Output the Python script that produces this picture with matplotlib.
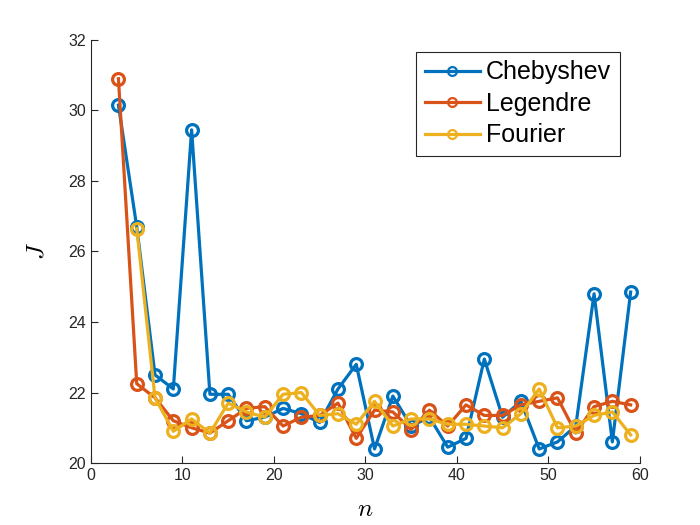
import numpy as np
import matplotlib
matplotlib.use("Agg")
import matplotlib.pyplot as plt

# data
n_cheb = np.arange(3, 60, 2)
J_cheb = [30.15, 26.7, 22.5, 22.1, 29.45, 21.95, 21.95, 21.2, 21.3, 21.55,
          21.4, 21.15, 22.1, 22.8, 20.4, 21.9, 21.05, 21.3, 20.45, 20.7,
          22.95, 21.3, 21.75, 20.4, 20.6, 21.05, 24.8, 20.6, 24.85]

n_leg = np.arange(3, 60, 2)
J_leg = [30.9, 22.25, 21.85, 21.2, 21.0, 20.85, 21.2, 21.55, 21.6, 21.05,
         21.3, 21.35, 21.7, 20.7, 21.5, 21.45, 20.95, 21.5, 21.05, 21.65,
         21.35, 21.35, 21.65, 21.75, 21.85, 20.85, 21.6, 21.75, 21.65]

n_four = np.arange(5, 60, 2)
J_four = [26.65, 21.85, 20.9, 21.25, 20.85, 21.7, 21.45, 21.3, 21.95, 22.0,
          21.35, 21.4, 21.1, 21.75, 21.05, 21.25, 21.25, 21.1, 21.1, 21.05,
          21.0, 21.4, 22.1, 21.0, 21.05, 21.35, 21.45, 20.8]

plt.rcParams['font.family'] = ['Liberation Sans', 'DejaVu Sans']
plt.rcParams['mathtext.fontset'] = 'cm'

fig = plt.figure(figsize=(7, 5.25), dpi=100)
ax = fig.add_axes([0.13, 0.118, 0.784, 0.806])

style = dict(marker='o', markersize=8.5, markerfacecolor='none',
             markeredgewidth=2.3, linewidth=2.3)
ax.plot(n_cheb, J_cheb, color='#0072BD', label='Chebyshev', **style)
ax.plot(n_leg, J_leg, color='#D95319', label='Legendre', **style)
ax.plot(n_four, J_four, color='#EDB120', label='Fourier', **style)

ax.set_xlim(0, 60)
ax.set_ylim(20, 32)
ax.set_xticks(np.arange(0, 61, 10))
ax.set_yticks(np.arange(20, 33, 2))
ax.tick_params(direction='in', labelsize=11.5, colors='#262626', length=5)
for s in ['top', 'right']:
    ax.spines[s].set_visible(False)
for s in ['left', 'bottom']:
    ax.spines[s].set_color('#262626')

ax.set_xlabel('$n$', fontsize=18, labelpad=10)
ax.set_ylabel('$J$', fontsize=18, labelpad=14)

leg = ax.legend(loc='upper right', bbox_to_anchor=(0.964, 0.972), fontsize=18,
                fancybox=False, edgecolor='#262626', framealpha=1,
                borderaxespad=0, handlelength=2.2, handletextpad=0.25,
                borderpad=0.35, labelspacing=0.3, markerscale=0.75)
leg.get_frame().set_linewidth(0.8)
for h in leg.legend_handles:
    h.set_markeredgewidth(1.6)

fig.savefig('out.png', dpi=100)
